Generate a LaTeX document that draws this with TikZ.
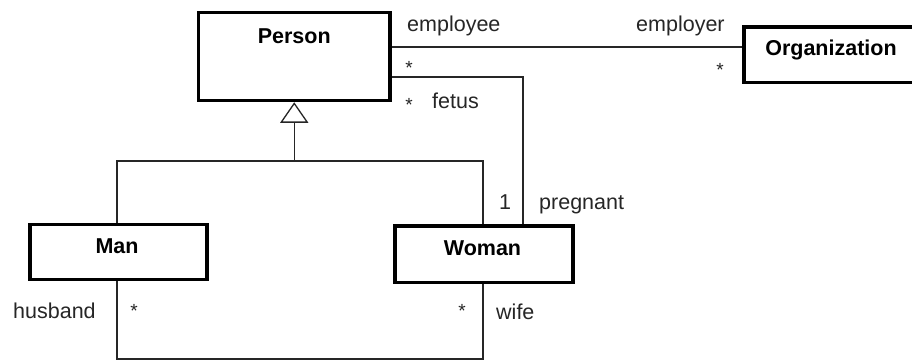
\documentclass[tikz,border=0pt]{standalone}
\usepackage{fontspec}
\setmainfont{Liberation Sans}
\usetikzlibrary{arrows.meta}
\tikzset{
  classbox/.style={draw=black, line width=3.5pt, rectangle, inner sep=0pt, fill=white},
  title/.style={font=\fontsize{21.5}{24}\selectfont\bfseries, inner sep=0pt, anchor=base},
  role/.style={font=\fontsize{21.5}{24}\selectfont, inner sep=0pt, anchor=base west, text=black!85},
  mult/.style={font=\fontsize{19}{21}\selectfont, inner sep=0pt, anchor=base, text=black!85},
  conn/.style={draw=black!85, line width=1.3pt},
}
\begin{document}
\begin{tikzpicture}[x=1pt,y=-1pt]
\useasboundingbox (0,0) rectangle (912,361);
\clip (0,0) rectangle (912,361);
\fill[white] (0,0) rectangle (912,361);

% class boxes
\node[classbox, minimum width=191.5pt, minimum height=88pt] (person) at (294.25,56.5) {};
\node[classbox, minimum width=174pt, minimum height=55.5pt] (org) at (831,54.75) {};
\node[classbox, minimum width=177pt, minimum height=55pt] (man) at (118.5,252) {};
\node[classbox, minimum width=178pt, minimum height=56.5pt] (woman) at (484,254.25) {};

% class names
\node[title] (tperson) at ([yshift=-32.5pt]person.north) {Person};
\node[title] (torg) at ([yshift=-30.5pt]org.north) {Organization};
\node[title] (tman) at ([yshift=-30.5pt,xshift=-1.5pt]man.north) {Man};
\node[title] (twoman) at ([yshift=-31pt,xshift=-1.5pt]woman.north) {Woman};

% bend points
\coordinate (split) at (294.25,161);
\coordinate (fbend) at (523,77);
\coordinate (mb1) at (117,359);
\coordinate (mb2) at (483,359);

% employment association
\draw[conn] (person.east |- 0,47) -- (org.west |- 0,47);
% pregnancy association
\draw[conn] (person.east |- fbend) -- (fbend) -- (fbend |- woman.north);
% generalization
\draw[conn, -{Triangle[open, length=20.5pt, width=28pt, line width=1.3pt]}] (split) -- (person.south);
\draw[conn] (mb1 |- man.north) |- (split) -| (mb2 |- woman.north);
% marriage association
\draw[conn] (mb1 |- man.south) -- (mb1) -- (mb2) -- (mb2 |- woman.south);

% role names and multiplicities
\node[role] (lemployee) at (407,31.7) {employee};
\node[mult] (memployee) at (409,74.5) {*};
\node[role] (lemployer) at (636,31.7) {employer};
\node[mult] (memployer) at (720,76) {*};
\node[mult] (mfetus) at (409,111) {*};
\node[role] (lfetus) at (432,108.3) {fetus};
\node[role, anchor=base] (mpreg) at (505,209.8) {1};
\node[role] (lpreg) at (539,209.5) {pregnant};
\node[role] (lhusband) at (13,318) {husband};
\node[mult] (mhusband) at (134,317) {*};
\node[mult] (mwife) at (462,317) {*};
\node[role] (lwife) at (496,319.5) {wife};
\end{tikzpicture}
\end{document}
